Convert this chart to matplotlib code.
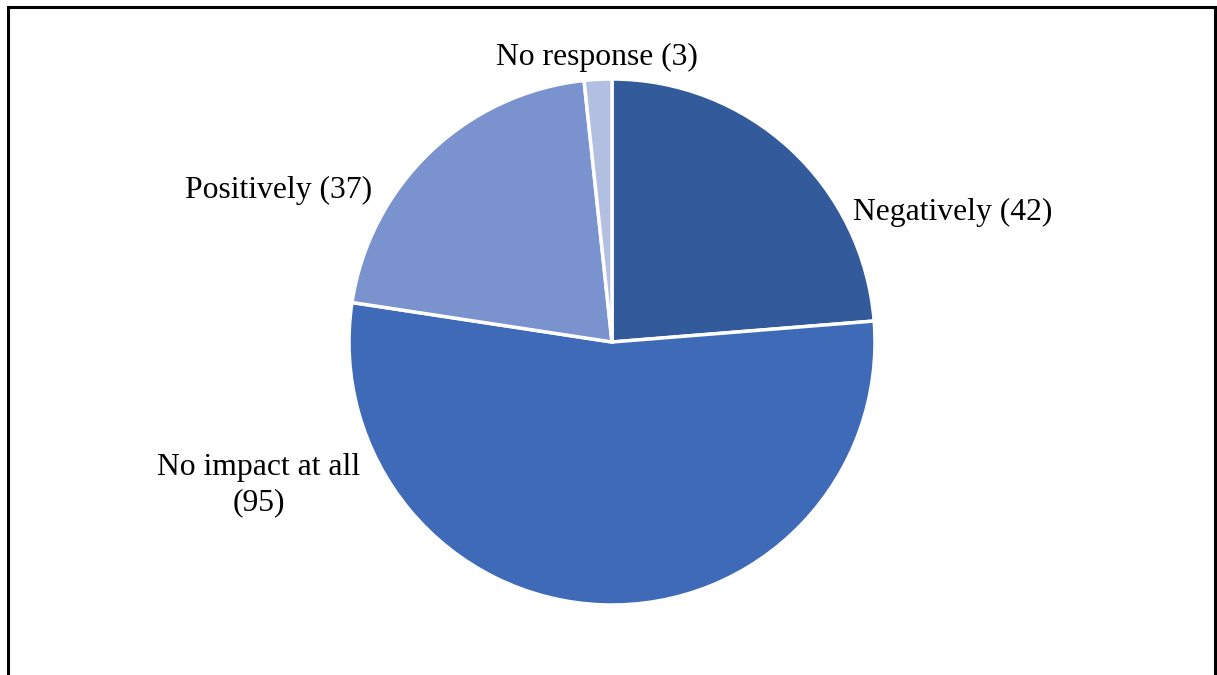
import matplotlib.pyplot as plt
from matplotlib.patches import Rectangle

plt.rcParams['font.family'] = ['Liberation Serif', 'DejaVu Serif']

# Survey answers, clockwise from 12 o'clock
labels = ['Negatively', 'No impact at all', 'Positively', 'No response']
counts = [42, 95, 37, 3]
colors = ['#335A9B', '#3F6AB8', '#7A93CF', '#B3BFE1']

fig = plt.figure(figsize=(12.17, 6.75), dpi=100)
ax = fig.add_axes([0, 0, 1, 1])

ax.pie(counts, colors=colors, startangle=90, counterclock=False,
       center=(612, 333), radius=263, frame=True,
       wedgeprops=dict(edgecolor='white', linewidth=2.5))
ax.set_xlim(0, 1217)
ax.set_ylim(0, 675)
ax.set_aspect('equal')
ax.axis('off')

# label placement around the pie
label_pos = [(953, 463), (259, 190), (279, 485), (597, 618)]
for lab, n, (x, y) in zip(labels, counts, label_pos):
    txt = f'{lab}\n({n})' if lab == 'No impact at all' else f'{lab} ({n})'
    ax.text(x, y, txt, ha='center', va='center', fontsize=22.8,
            color='black', linespacing=1.25)

# outer frame
fig.patches.append(Rectangle((8 / 1217, -0.1), 1207 / 1217, (668 / 675) + 0.1,
                             transform=fig.transFigure, fill=False,
                             edgecolor='black', linewidth=2.2))

fig.savefig('out.png', dpi=100, facecolor='white')
